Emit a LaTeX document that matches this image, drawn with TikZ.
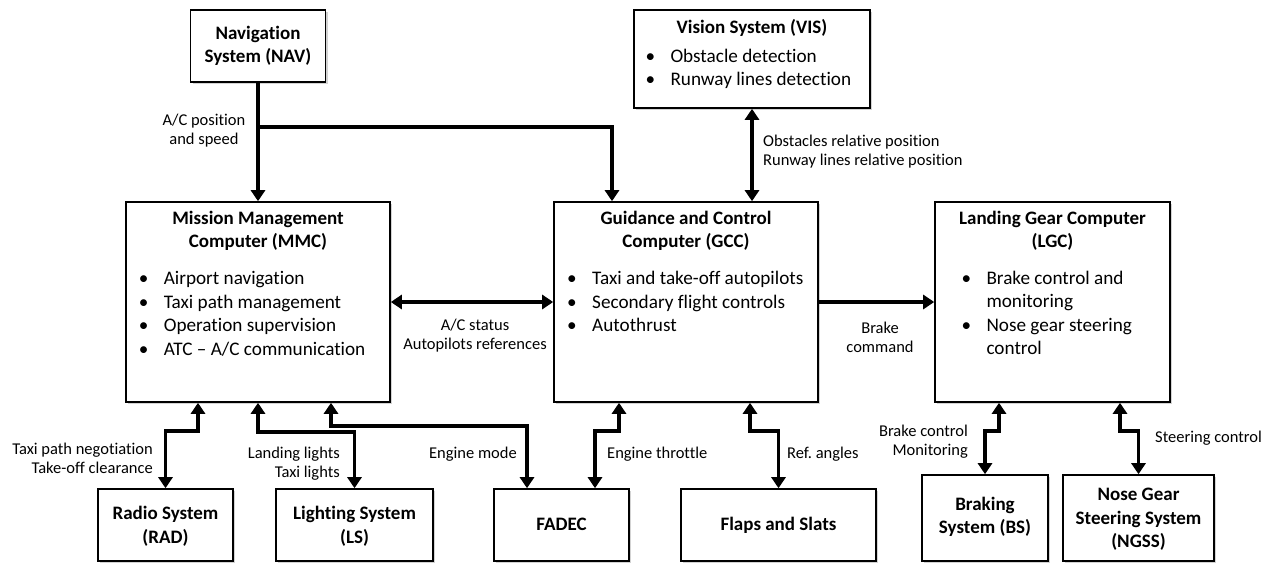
\documentclass[tikz,border=0pt]{standalone}
\usepackage{fontspec}
\setmainfont{Carlito}[Ligatures={TeX,NoCommon}]
\usetikzlibrary{arrows.meta,shadows,calc}
\newcommand\bl{\strut\makebox[25pt][l]{\textbullet}}
\newcommand\ind{\strut\hspace*{25pt}}
\frenchspacing
\begin{document}
\begin{tikzpicture}[x=1pt,y=-1pt,
  box/.style={draw, line width=1.6pt, fill=white, rectangle, inner sep=0pt,
    drop shadow={shadow xshift=2pt,shadow yshift=-2pt,opacity=.35}},
  body/.style={font=\fontsize{19.2}{23.5}\selectfont, inner sep=0pt},
  ttl/.style={font=\fontsize{19}{23.5}\selectfont\bfseries, inner sep=0pt, align=center},
  lbl/.style={font=\fontsize{16.5}{19.8}\selectfont, inner sep=0pt},
  conn/.style={line width=3.8pt, -{Triangle[length=11pt,width=14pt]}},
  dconn/.style={line width=3.8pt, {Triangle[length=11pt,width=14pt]}-{Triangle[length=11pt,width=14pt]}}
]
\useasboundingbox (0,0) rectangle (1268,562);

% boxes
\node[box, minimum width=135pt, minimum height=72pt] (nav) at (258,46) {};
\node[box, minimum width=236pt, minimum height=98pt] (vis) at (752,59) {};
\node[box, minimum width=264pt, minimum height=200pt] (mmc) at (258,302) {};
\node[box, minimum width=264pt, minimum height=200pt] (gcc) at (686,302) {};
\node[box, minimum width=235pt, minimum height=200pt] (lgc) at (1052.5,302) {};
\node[box, minimum width=135pt, minimum height=72pt] (rad) at (165.5,525) {};
\node[box, minimum width=157pt, minimum height=72pt] (ls) at (354.5,525) {};
\node[box, minimum width=135pt, minimum height=72pt] (fadec) at (561.5,525) {};
\node[box, minimum width=195pt, minimum height=72pt] (flaps) at (778.5,525) {};
\node[box, minimum width=126pt, minimum height=86pt] (bs) at (985,518) {};
\node[box, minimum width=151pt, minimum height=86pt] (ngss) at (1138.5,518) {};

% box texts
\node[ttl] (navT) at (258,46.5) {\strut Navigation\\\strut System (NAV)};
\node[ttl] (visT) at (752,28.3) {\strut Vision System (VIS)};
\node[body, align=left, anchor=west] (visB) at (645.3,69.5) {\bl Obstacle detection\\\bl Runway lines detection};
\node[ttl] (mmcT) at (258,231.3) {\strut Mission Management\\\strut Computer (MMC)};
\node[body, align=left, anchor=west] (mmcB) at (138.6,315.5) {\bl Airport navigation\\\bl Taxi path management\\\bl Operation supervision\\\bl ATC \textendash{} A/C communication};
\node[ttl] (gccT) at (686,231.3) {\strut Guidance and Control\\\strut Computer (GCC)};
\node[body, align=left, anchor=west] (gccB) at (567,303.5) {\bl Taxi and take-off autopilots\\\bl Secondary flight controls\\\bl Autothrust};
\node[ttl] (lgcT) at (1052.5,231.3) {\strut Landing Gear Computer\\\strut (LGC)};
\node[body, align=left, anchor=west] (lgcB) at (961.3,315) {\bl Brake control and\\\ind monitoring\\\bl Nose gear steering\\\ind control};
\node[ttl] (radT) at (165.5,527) {\strut Radio System\\\strut (RAD)};
\node[ttl] (lsT) at (354.5,527) {\strut Lighting System\\\strut (LS)};
\node[ttl] (fadecT) at (561.5,526) {\strut FADEC};
\node[ttl] (flapsT) at (778.5,526) {\strut Flaps and Slats};
\node[ttl] (bsT) at (985,517.5) {\strut Braking\\\strut System (BS)};
\node[ttl] (ngssT) at (1138.5,519.6) {\strut Nose Gear\\\strut Steering System\\\strut (NGSS)};

% connectors
\coordinate (j1) at (258,127);
\draw[conn] (nav.south) -- (mmc.north);
\draw[conn] (j1) -| ([xshift=-74pt]gcc.north);
\draw[dconn] (vis.south) -- (vis.south |- gcc.north);
\draw[dconn] (mmc.east) -- (gcc.west);
\draw[conn] (gcc.east) -- (lgc.west);
\draw[dconn] ([xshift=-60pt]mmc.south) -- ++(0,28) -| (rad.north);
\draw[dconn] (mmc.south) -- ++(0,29) -| (ls.north);
\draw[dconn] ([xshift=73pt]mmc.south) -- ++(0,23) -| ([xshift=-34.5pt]fadec.north);
\draw[dconn] ([xshift=-67pt]gcc.south) -- ++(0,28) -| ([xshift=33.5pt]fadec.north);
\draw[dconn] ([xshift=64pt]gcc.south) -- ++(0,28) -| (flaps.north);
\draw[dconn] ([xshift=-53.5pt]lgc.south) -- ++(0,28) -| (bs.north);
\draw[dconn] ([xshift=67.5pt]lgc.south) -- ++(0,28) -| (ngss.north);

% connector labels
\node[lbl, align=center] (lNav) at (204,131) {\strut A/C position\\\strut and speed};
\node[lbl, align=left, anchor=west] (lVis) at (763,152) {\strut Obstacles relative position\\\strut Runway lines relative position};
\node[lbl, align=center] (lMG) at (475,336) {\strut A/C status\\\strut Autopilots references};
\node[lbl, align=center] (lGL) at (880,339) {\strut Brake\\\strut command};
\node[lbl, align=right, anchor=east] (lRad) at (153,460) {\strut Taxi path negotiation\\\strut Take-off clearance};
\node[lbl, align=right, anchor=east] (lLs) at (340,464) {\strut Landing lights\\\strut Taxi lights};
\node[lbl, anchor=east] (lEm) at (517,455) {\strut Engine mode};
\node[lbl, anchor=west] (lEt) at (607,455) {\strut Engine throttle};
\node[lbl, anchor=west] (lRef) at (787,455) {\strut Ref. angles};
\node[lbl, align=right, anchor=east] (lBs) at (968,442) {\strut Brake control\\\strut Monitoring};
\node[lbl, anchor=west] (lSt) at (1155,439) {\strut Steering control};
\end{tikzpicture}
\end{document}
